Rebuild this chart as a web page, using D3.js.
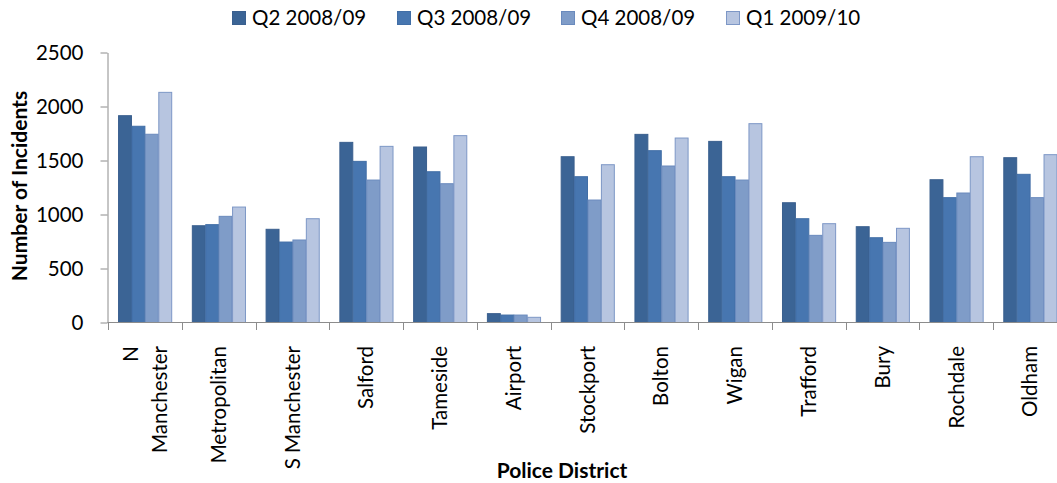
<html>
<head>
<style>
  body { margin: 0; background: #fff; }
  text { font-family: Lato, "Open Sans", sans-serif; fill: #000; }
</style>
</head>
<body>
<svg id="chart" width="1057" height="483"></svg>
<script src="https://cdnjs.cloudflare.com/ajax/libs/d3/7.8.5/d3.min.js"></script>
<script>
var districts = ["N Manchester", "Metropolitan", "S Manchester", "Salford", "Tameside", "Airport",
                 "Stockport", "Bolton", "Wigan", "Trafford", "Bury", "Rochdale", "Oldham"];
var seriesNames = ["Q2 2008/09", "Q3 2008/09", "Q4 2008/09", "Q1 2009/10"];
var q2_0809 = [1915, 896, 863, 1668, 1625, 82, 1535, 1742, 1677, 1109, 887, 1322, 1526];
var q3_0809 = [1817, 906, 745, 1492, 1396, 69, 1350, 1591, 1350, 961, 785, 1156, 1372];
var q4_0809 = [1743, 983, 764, 1319, 1285, 69, 1134, 1449, 1319, 807, 742, 1199, 1156];
var q1_0910 = [2131, 1069, 961, 1631, 1730, 48, 1461, 1708, 1841, 915, 872, 1535, 1554];
var yTicks = [0, 500, 1000, 1500, 2000, 2500];

var values = [q2_0809, q3_0809, q4_0809, q1_0910];
var fills = ["#3b6495", "#4776b0", "#7f9cc8", "#b7c5e0"];
var strokes = ["#3a5f8e", "#416ea6", "#6a8abd", "#7d97c6"];

var svg = d3.select("#chart");

var x = d3.scaleBand().domain(districts).range([108, 1067]);
var xs = d3.scaleBand().domain(seriesNames).range([0, x.bandwidth()]).paddingOuter(0.75);
var y = d3.scaleLinear().domain([0, 2500]).range([322.5, 52.5]);

// bars
seriesNames.forEach(function(s, i) {
  svg.append("g").selectAll("rect")
    .data(values[i])
    .enter()
    .append("rect")
    .attr("x", (d, j) => x(districts[j]) + xs(s) + 0.5)
    .attr("y", d => y(d))
    .attr("width", xs.bandwidth() - 0.5)
    .attr("height", d => y(0) - y(d))
    .attr("fill", fills[i])
    .attr("stroke", strokes[i])
    .attr("stroke-width", 1);
});

// y axis
var yAxis = svg.append("g")
  .attr("transform", "translate(107.5,0)")
  .call(d3.axisLeft(y).tickValues(yTicks).tickFormat(d3.format("d"))
    .tickSize(7).tickSizeOuter(0).tickPadding(17));
yAxis.select(".domain").attr("stroke", "#8c8c8c");
yAxis.selectAll(".tick line").attr("stroke", "#8c8c8c");
yAxis.selectAll("text").style("font-size", "20.5px").attr("fill", "#000").attr("font-family", null);

// x axis: line and ticks at category boundaries
svg.append("line")
  .attr("x1", 107.5).attr("x2", 1067)
  .attr("y1", 322.5).attr("y2", 322.5)
  .attr("stroke", "#8c8c8c");
svg.append("g").selectAll("line")
  .data(districts)
  .enter()
  .append("line")
  .attr("x1", d => Math.round(x(d)) + 0.5)
  .attr("x2", d => Math.round(x(d)) + 0.5)
  .attr("y1", 322.5).attr("y2", 330)
  .attr("stroke", "#8c8c8c");

// x labels, rotated
var labels = svg.append("g").selectAll("text")
  .data(districts)
  .enter()
  .append("text")
  .attr("transform", d => "translate(" + (x(d) + x.bandwidth() / 2) + ",346) rotate(-90)")
  .attr("text-anchor", "end")
  .style("font-size", "20.5px");
labels.each(function(d) {
  var t = d3.select(this);
  var lines = d === "N Manchester" ? ["N", "Manchester"] : [d];
  lines.forEach(function(l, k) {
    var off = (k - (lines.length - 1) / 2) * 29;
    t.append("tspan").attr("x", 0).attr("y", off).attr("dy", "0.35em").text(l);
  });
});

// axis titles
svg.append("text")
  .attr("transform", "translate(20,186) rotate(-90)")
  .attr("text-anchor", "middle")
  .attr("dy", "0.35em")
  .style("font-size", "21px")
  .style("font-weight", "bold")
  .text("Number of Incidents");
svg.append("text")
  .attr("x", 562).attr("y", 478)
  .attr("text-anchor", "middle")
  .style("font-size", "21px")
  .style("font-weight", "bold")
  .text("Police District");

// legend
var legendX = [232, 397, 561, 726];
var legend = svg.append("g").selectAll("g")
  .data(seriesNames)
  .enter()
  .append("g")
  .attr("transform", (d, i) => "translate(" + legendX[i] + ",11)");
legend.append("rect")
  .attr("x", 0.5).attr("y", 0.5)
  .attr("width", 13).attr("height", 13)
  .attr("fill", (d, i) => fills[i])
  .attr("stroke", (d, i) => strokes[i]);
legend.append("text")
  .attr("x", 20).attr("y", 7)
  .attr("dy", "0.35em")
  .style("font-size", "20.5px")
  .text(d => d);
</script>
</body>
</html>
